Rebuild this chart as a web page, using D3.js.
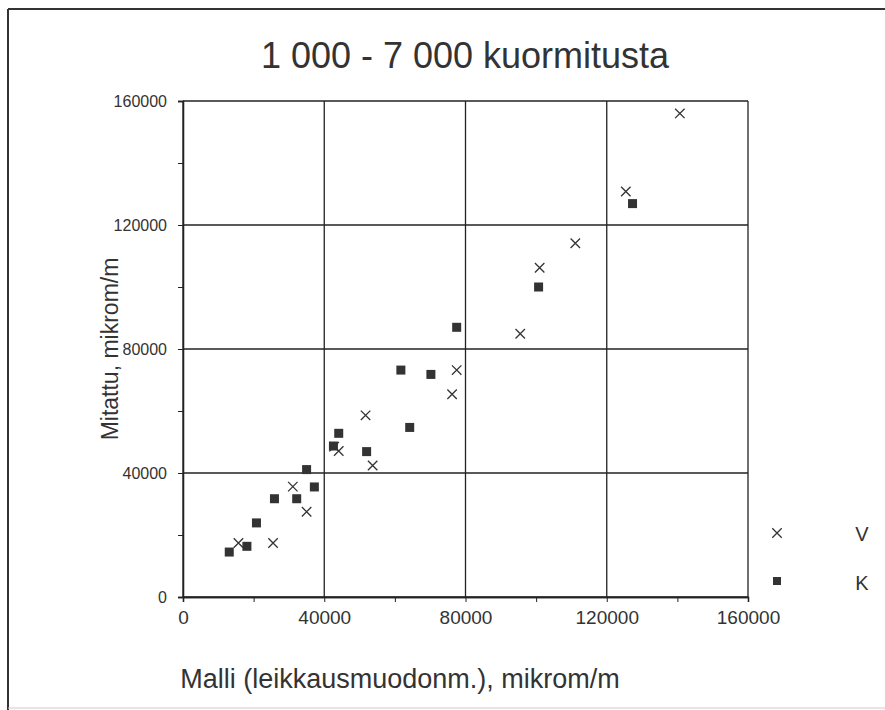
<!DOCTYPE html>
<html>

<head>
  <title>1 000 - 7 000 kuormitusta</title>
  <meta charset="utf-8">
  <script src="https://d3js.org/d3.v7.min.js"></script>
  <style>
    body { margin: 0; background: #fff; }
    text { font-family: "Liberation Sans", Arial, sans-serif; fill: #333; }
    .grid line { stroke: #222; stroke-width: 1.3px; }
  </style>
</head>

<body>
  <svg width="885" height="710"></svg>
  <script>

    // V = crosses, K = squares  (x: Malli, y: Mitattu)
    var vX = [15700, 25500, 31100, 35000, 42800, 44100, 51700, 53700, 76200, 77500, 95500, 101000, 111100, 125400, 140700];
    var vY = [17400, 17400, 35600, 27500, 48500, 47100, 58600, 42400, 65400, 73200, 84900, 106200, 114100, 130800, 156000];
    var kX = [13100, 18100, 20800, 25900, 32200, 35000, 37200, 42600, 44100, 52000, 61700, 64200, 70200, 77500, 100700, 127300];
    var kY = [14500, 16350, 23900, 31700, 31700, 41100, 35500, 48700, 52800, 46900, 73200, 54700, 71800, 87000, 100000, 126900];
    var majorTicks = [0, 40000, 80000, 120000, 160000];
    var minorTicks = [20000, 60000, 100000, 140000];

    var svg = d3.select('svg');
    var pl = 183, pr = 748, pt = 101, pb = 597;

    var x = d3.scaleLinear().domain([0, 160000]).range([pl, pr]);
    var y = d3.scaleLinear().domain([0, 160000]).range([pb, pt]);

    // outer frame (left + top, faint bottom)
    svg.append('line').attr('x1', 8).attr('x2', 885).attr('y1', 9).attr('y2', 9)
      .attr('stroke', '#333').attr('stroke-width', 2);
    svg.append('line').attr('x1', 8).attr('x2', 8).attr('y1', 9).attr('y2', 710)
      .attr('stroke', '#333').attr('stroke-width', 2);
    svg.append('line').attr('x1', 8).attr('x2', 885).attr('y1', 708).attr('y2', 708)
      .attr('stroke', '#ccc').attr('stroke-width', 1);

    // title
    svg.append('text').attr('x', 465).attr('y', 68).attr('text-anchor', 'middle')
      .style('font-size', '36px').text('1 000 - 7 000 kuormitusta');

    // grid
    var g = svg.append('g').attr('class', 'grid');
    g.selectAll('.gx').data(majorTicks).enter().append('line')
      .attr('x1', d => x(d)).attr('x2', d => x(d)).attr('y1', pt).attr('y2', pb);
    g.selectAll('.gy').data(majorTicks).enter().append('line')
      .attr('x1', pl).attr('x2', pr).attr('y1', d => y(d)).attr('y2', d => y(d));

    // axes
    var xAxis = d3.axisBottom(x).tickValues(majorTicks).tickSize(5).tickPadding(9).tickFormat(d3.format('d'));
    var yAxis = d3.axisLeft(y).tickValues(majorTicks).tickSize(5).tickPadding(11).tickFormat(d3.format('d'));
    var ax = svg.append('g').attr('transform', 'translate(0,' + pb + ')').call(xAxis);
    var ay = svg.append('g').attr('transform', 'translate(' + pl + ',0)').call(yAxis);
    svg.append('g').attr('transform', 'translate(0,' + pb + ')')
      .call(d3.axisBottom(x).tickValues(minorTicks).tickSize(5).tickFormat(''));
    svg.append('g').attr('transform', 'translate(' + pl + ',0)')
      .call(d3.axisLeft(y).tickValues(minorTicks).tickSize(5).tickFormat(''));
    svg.selectAll('.domain').attr('stroke', '#222').attr('stroke-width', 1.3);
    svg.selectAll('.tick line').attr('stroke', '#222');
    svg.selectAll('.tick text').attr('fill', '#333')
      .style('font-family', '"Liberation Sans", Arial, sans-serif');
    ax.selectAll('.tick text').style('font-size', '19px');
    ay.selectAll('.tick text').style('font-size', '16px');

    // axis titles
    svg.append('text').attr('transform', 'translate(118,' + ((pt + pb) / 2) + ') rotate(-90)')
      .attr('text-anchor', 'middle').style('font-size', '23px').text('Mitattu, mikrom/m');
    svg.append('text').attr('x', 400).attr('y', 688).attr('text-anchor', 'middle')
      .style('font-size', '27px').text('Malli (leikkausmuodonm.), mikrom/m');

    // points
    var cross = d3.symbol().type(d3.symbolX).size(60);
    svg.append('g').selectAll('path').data(d3.range(vX.length)).enter().append('path')
      .attr('d', cross)
      .attr('transform', i => 'translate(' + x(vX[i]) + ',' + y(vY[i]) + ')')
      .attr('fill', 'none').attr('stroke', '#333').attr('stroke-width', 1.3);
    svg.append('g').selectAll('rect').data(d3.range(kX.length)).enter().append('rect')
      .attr('x', i => x(kX[i]) - 4.5).attr('y', i => y(kY[i]) - 4.5)
      .attr('width', 9).attr('height', 9).attr('fill', '#333');

    // legend
    svg.append('path').attr('d', cross).attr('transform', 'translate(777,533)')
      .attr('fill', 'none').attr('stroke', '#333').attr('stroke-width', 1.3);
    svg.append('rect').attr('x', 773).attr('y', 577).attr('width', 8).attr('height', 8).attr('fill', '#333');
    svg.append('text').attr('x', 862).attr('y', 541).attr('text-anchor', 'middle').style('font-size', '20px').text('V');
    svg.append('text').attr('x', 862).attr('y', 590).attr('text-anchor', 'middle').style('font-size', '20px').text('K');

  </script>
</body>

</html>
